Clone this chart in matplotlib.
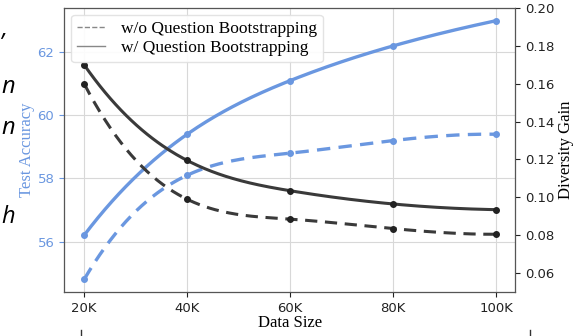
import matplotlib
matplotlib.use('Agg')
import matplotlib.pyplot as plt
from matplotlib.lines import Line2D
import numpy as np

sizes = [20, 40, 60, 80, 100]
size_labels = ['20K', '40K', '60K', '80K', '100K']

acc_w = [56.2, 59.4, 61.1, 62.2, 63.0]
acc_wo = [54.8, 58.1, 58.8, 59.2, 59.4]
div_w = [0.170, 0.1195, 0.1035, 0.0965, 0.0935]
div_wo = [0.160, 0.099, 0.0885, 0.0835, 0.0805]

blue = '#6a97e0'
dark = '#3a3a3a'
serif = ['Liberation Serif', 'DejaVu Serif']


def smooth(x, y, n=60):
    # cubic spline with not-a-knot ends
    x = np.asarray(x, float)
    y = np.asarray(y, float)
    k = len(x)
    h = np.diff(x)
    A = np.zeros((k, k))
    r = np.zeros(k)
    A[0, 0], A[0, 1], A[0, 2] = h[1], -(h[0] + h[1]), h[0]
    A[-1, -3], A[-1, -2], A[-1, -1] = h[-1], -(h[-2] + h[-1]), h[-2]
    for i in range(1, k - 1):
        A[i, i - 1] = h[i - 1]
        A[i, i] = 2 * (h[i - 1] + h[i])
        A[i, i + 1] = h[i]
        r[i] = 6 * ((y[i + 1] - y[i]) / h[i] - (y[i] - y[i - 1]) / h[i - 1])
    M = np.linalg.solve(A, r)
    xs, ys = [], []
    for i in range(k - 1):
        t = np.linspace(x[i], x[i + 1], n)
        a = x[i + 1] - t
        b = t - x[i]
        s = (M[i] * a**3 + M[i + 1] * b**3) / (6 * h[i]) \
            + (y[i] / h[i] - M[i] * h[i] / 6) * a + (y[i + 1] / h[i] - M[i + 1] * h[i] / 6) * b
        xs.append(t)
        ys.append(s)
    return np.concatenate(xs), np.concatenate(ys)


fig, ax = plt.subplots(figsize=(5.88, 3.36), dpi=100)
fig.subplots_adjust(left=0.109, right=0.876, top=0.976, bottom=0.131)
ax2 = ax.twinx()

for yv, ls in [(acc_w, '-'), (acc_wo, (0, (4, 2.5)))]:
    sx, sy = smooth(sizes, yv)
    ax.plot(sx, sy, color=blue, lw=2.4, ls=ls)
    ax.plot(sizes, yv, 'o', color=blue, ms=4)

for yv, ls in [(div_w, '-'), (div_wo, (0, (4, 2.5)))]:
    sx, sy = smooth(sizes, yv)
    ax2.plot(sx, sy, color=dark, lw=2.2, ls=ls)
    ax2.plot(sizes, yv, 'o', color='#222222', ms=4)

ax.set_xlim(16.1, 103.7)
ax.set_ylim(54.4, 63.4)
ax2.set_ylim(0.05, 0.20)
ax.set_xticks(sizes)
ax.set_xticklabels(size_labels)
ax.set_yticks([56, 58, 60, 62])
ax2.set_yticks([0.06, 0.08, 0.10, 0.12, 0.14, 0.16, 0.18, 0.20])
ax2.set_yticklabels(['%.2f' % v for v in [0.06, 0.08, 0.10, 0.12, 0.14, 0.16, 0.18, 0.20]])

ax.grid(True, color='#d8d8d8', lw=0.8)
ax.set_axisbelow(True)
ax.tick_params(axis='y', colors=blue, labelsize=9.5)
ax.tick_params(axis='x', labelsize=9.5, colors='#222222')
ax2.tick_params(axis='y', labelsize=9.5, colors='#222222')
for sp in ax2.spines.values():
    sp.set_color('#555555')

ax.set_xlabel('Data Size', family=serif, fontsize=12, labelpad=0)
ax.set_ylabel('Test Accuracy', family=serif, fontsize=12, color=blue, labelpad=2)
ax2.set_ylabel('Diversity Gain', family=serif, fontsize=12, labelpad=3)

handles = [Line2D([], [], color='#888888', lw=1, ls='--'),
           Line2D([], [], color='#888888', lw=1, ls='-')]
ax2.legend(handles, ['w/o Question Bootstrapping', 'w/ Question Bootstrapping'],
           loc='upper left', prop={'family': serif, 'size': 12.5},
           handlelength=1.6, handletextpad=0.9, borderpad=0.35, labelspacing=0.15,
           borderaxespad=0.4, framealpha=0.9, edgecolor='#e0e0e0')

# clipped text from the page next to the figure
for y, s in [(0.91, ','), (0.74, 'n'), (0.62, 'n'), (0.355, 'h')]:
    fig.text(0.002, y, s, fontsize=17, style='italic', family=['Open Sans', 'DejaVu Sans'],
             va='center', ha='left')

# stray tick marks below the figure
for xf in [0.137, 0.901]:
    fig.add_artist(Line2D([xf, xf], [0.0, 0.018], color='#333333', lw=1))

fig.savefig('out.png', dpi=100)
